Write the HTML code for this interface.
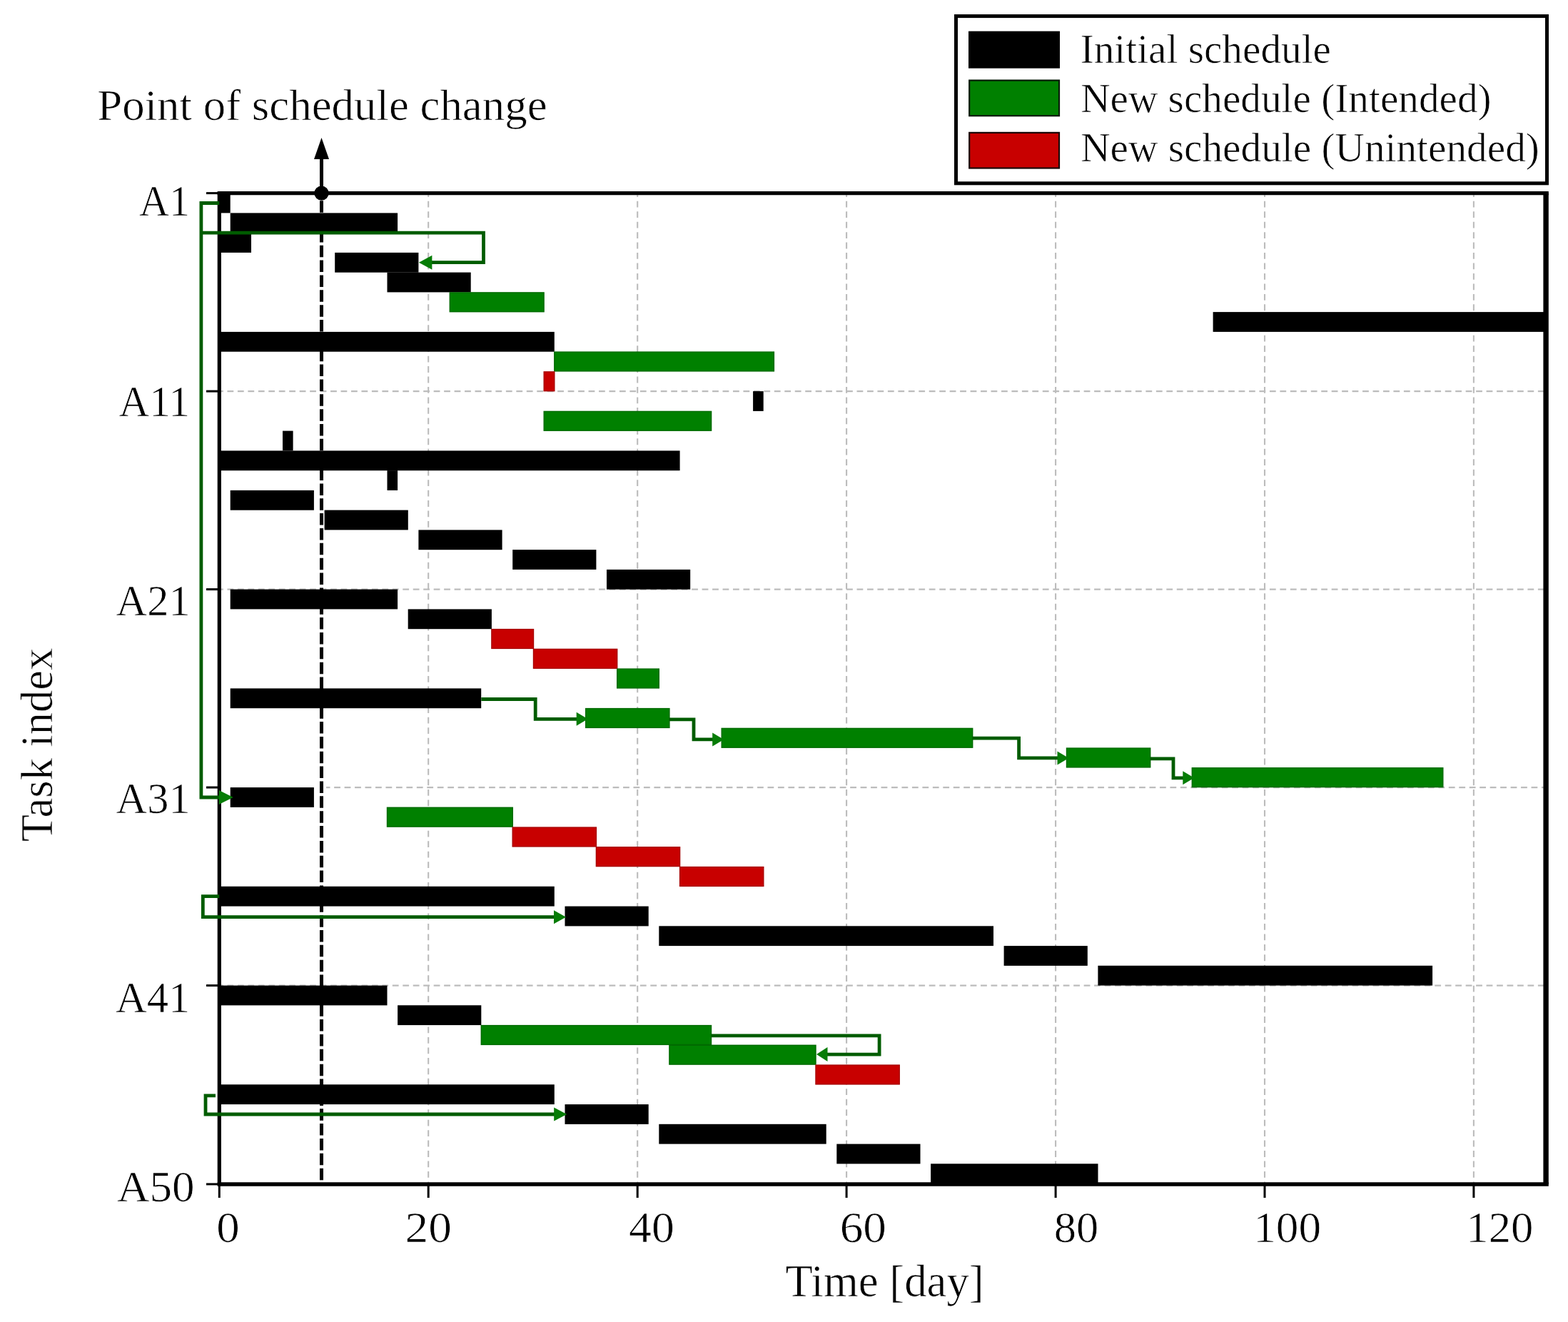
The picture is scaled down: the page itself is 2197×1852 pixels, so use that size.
<!DOCTYPE html>
<html lang="en"><head><meta charset="utf-8"><title>Schedule Gantt chart</title>
<style>html,body{margin:0;padding:0;background:#fff;}body{width:2197px;height:1852px;overflow:hidden;}svg{display:block;}text{font-family:"Liberation Serif","Times New Roman",serif;fill:#000;stroke:#fff;stroke-width:0.7px;paint-order:fill stroke;}</style>
</head><body>
<svg width="2197" height="1852" viewBox="0 0 2197 1852">
<rect x="0" y="0" width="2197" height="1852" fill="#ffffff"/>
<g stroke="#bcbcbc" stroke-width="2.1" stroke-dasharray="8.8 5.66" stroke-dashoffset="3.3" fill="none">
<line x1="600.2" y1="270.6" x2="600.2" y2="1658.9"/>
<line x1="893.2" y1="270.6" x2="893.2" y2="1658.9"/>
<line x1="1186.1" y1="270.6" x2="1186.1" y2="1658.9"/>
<line x1="1479.1" y1="270.6" x2="1479.1" y2="1658.9"/>
<line x1="1772.0" y1="270.6" x2="1772.0" y2="1658.9"/>
<line x1="2064.9" y1="270.6" x2="2064.9" y2="1658.9"/>
<line x1="307.3" y1="548.1" x2="2165.5" y2="548.1"/>
<line x1="307.3" y1="825.6" x2="2165.5" y2="825.6"/>
<line x1="457.0" y1="1103.1" x2="2165.5" y2="1103.1"/>
<line x1="307.3" y1="1380.6" x2="2165.5" y2="1380.6"/>
</g>
<g>
<rect x="308.1" y="270.6" width="14.6" height="27.8" fill="#000000"/>
<rect x="322.7" y="298.4" width="234.4" height="27.8" fill="#000000"/>
<rect x="308.1" y="326.1" width="43.9" height="27.8" fill="#000000"/>
<rect x="469.2" y="353.9" width="117.2" height="27.8" fill="#000000"/>
<rect x="542.5" y="381.6" width="117.2" height="27.8" fill="#000000"/>
<rect x="630.3" y="409.9" width="131.8" height="26.8" fill="#008000" stroke="#006a00" stroke-width="1.4"/>
<rect x="1699.6" y="437.1" width="465.9" height="27.8" fill="#000000"/>
<rect x="308.1" y="464.9" width="468.7" height="27.8" fill="#000000"/>
<rect x="776.8" y="493.1" width="307.6" height="26.8" fill="#008000" stroke="#006a00" stroke-width="1.4"/>
<rect x="762.2" y="520.9" width="14.6" height="26.8" fill="#c80000" stroke="#a80000" stroke-width="1.4"/>
<rect x="1055.1" y="548.1" width="14.6" height="27.8" fill="#000000"/>
<rect x="762.2" y="576.4" width="234.4" height="26.8" fill="#008000" stroke="#006a00" stroke-width="1.4"/>
<rect x="396.0" y="603.6" width="14.6" height="27.8" fill="#000000"/>
<rect x="308.1" y="631.4" width="644.5" height="27.8" fill="#000000"/>
<rect x="542.5" y="659.1" width="14.6" height="27.8" fill="#000000"/>
<rect x="322.7" y="686.9" width="117.2" height="27.8" fill="#000000"/>
<rect x="454.6" y="714.6" width="117.2" height="27.8" fill="#000000"/>
<rect x="586.4" y="742.4" width="117.2" height="27.8" fill="#000000"/>
<rect x="718.2" y="770.1" width="117.2" height="27.8" fill="#000000"/>
<rect x="850.0" y="797.9" width="117.2" height="27.8" fill="#000000"/>
<rect x="322.7" y="825.6" width="234.4" height="27.8" fill="#000000"/>
<rect x="571.7" y="853.4" width="117.2" height="27.8" fill="#000000"/>
<rect x="688.9" y="881.6" width="58.6" height="26.8" fill="#c80000" stroke="#a80000" stroke-width="1.4"/>
<rect x="747.5" y="909.4" width="117.2" height="26.8" fill="#c80000" stroke="#a80000" stroke-width="1.4"/>
<rect x="864.7" y="937.1" width="58.6" height="26.8" fill="#008000" stroke="#006a00" stroke-width="1.4"/>
<rect x="322.7" y="964.4" width="351.5" height="27.8" fill="#000000"/>
<rect x="820.7" y="992.6" width="117.2" height="26.8" fill="#008000" stroke="#006a00" stroke-width="1.4"/>
<rect x="1011.2" y="1020.4" width="351.5" height="26.8" fill="#008000" stroke="#006a00" stroke-width="1.4"/>
<rect x="1494.5" y="1048.1" width="117.2" height="26.8" fill="#008000" stroke="#006a00" stroke-width="1.4"/>
<rect x="1670.3" y="1075.8" width="351.5" height="26.8" fill="#008000" stroke="#006a00" stroke-width="1.4"/>
<rect x="322.7" y="1103.1" width="117.2" height="27.8" fill="#000000"/>
<rect x="542.5" y="1131.3" width="175.8" height="26.8" fill="#008000" stroke="#006a00" stroke-width="1.4"/>
<rect x="718.2" y="1159.1" width="117.2" height="26.8" fill="#c80000" stroke="#a80000" stroke-width="1.4"/>
<rect x="835.4" y="1186.8" width="117.2" height="26.8" fill="#c80000" stroke="#a80000" stroke-width="1.4"/>
<rect x="952.6" y="1214.6" width="117.2" height="26.8" fill="#c80000" stroke="#a80000" stroke-width="1.4"/>
<rect x="308.1" y="1241.8" width="468.7" height="27.8" fill="#000000"/>
<rect x="791.5" y="1269.6" width="117.2" height="27.8" fill="#000000"/>
<rect x="923.3" y="1297.3" width="468.7" height="27.8" fill="#000000"/>
<rect x="1406.6" y="1325.1" width="117.2" height="27.8" fill="#000000"/>
<rect x="1538.4" y="1352.8" width="468.7" height="27.8" fill="#000000"/>
<rect x="308.1" y="1380.6" width="234.4" height="27.8" fill="#000000"/>
<rect x="557.1" y="1408.3" width="117.2" height="27.8" fill="#000000"/>
<rect x="674.3" y="1436.6" width="322.2" height="26.8" fill="#008000" stroke="#006a00" stroke-width="1.4"/>
<rect x="937.9" y="1464.3" width="205.1" height="26.8" fill="#008000" stroke="#006a00" stroke-width="1.4"/>
<rect x="1143.0" y="1492.1" width="117.2" height="26.8" fill="#c80000" stroke="#a80000" stroke-width="1.4"/>
<rect x="308.1" y="1519.3" width="468.7" height="27.8" fill="#000000"/>
<rect x="791.5" y="1547.1" width="117.2" height="27.8" fill="#000000"/>
<rect x="923.3" y="1574.8" width="234.4" height="27.8" fill="#000000"/>
<rect x="1172.3" y="1602.6" width="117.2" height="27.8" fill="#000000"/>
<rect x="1304.1" y="1630.3" width="234.4" height="27.8" fill="#000000"/>
</g>
<g stroke="#000" fill="none">
<line x1="304.7" y1="270.6" x2="2169.8" y2="270.6" stroke-width="5.2"/>
<line x1="304.7" y1="1658.9" x2="2169.8" y2="1658.9" stroke-width="5.5"/>
<line x1="307.3" y1="270.6" x2="307.3" y2="1658.9" stroke-width="5.2"/>
<line x1="2166.1" y1="270.6" x2="2166.1" y2="1658.9" stroke-width="7.4"/>
<line x1="289.0" y1="270.6" x2="307.3" y2="270.6" stroke-width="3"/>
<line x1="289.0" y1="548.1" x2="307.3" y2="548.1" stroke-width="3"/>
<line x1="289.0" y1="825.6" x2="307.3" y2="825.6" stroke-width="3"/>
<line x1="289.0" y1="1103.1" x2="307.3" y2="1103.1" stroke-width="3"/>
<line x1="289.0" y1="1380.6" x2="307.3" y2="1380.6" stroke-width="3"/>
<line x1="289.0" y1="1658.9" x2="307.3" y2="1658.9" stroke-width="3"/>
<line x1="307.3" y1="1658.9" x2="307.3" y2="1678.0" stroke-width="3"/>
<line x1="600.2" y1="1658.9" x2="600.2" y2="1678.0" stroke-width="3"/>
<line x1="893.2" y1="1658.9" x2="893.2" y2="1678.0" stroke-width="3"/>
<line x1="1186.1" y1="1658.9" x2="1186.1" y2="1678.0" stroke-width="3"/>
<line x1="1479.1" y1="1658.9" x2="1479.1" y2="1678.0" stroke-width="3"/>
<line x1="1772.0" y1="1658.9" x2="1772.0" y2="1678.0" stroke-width="3"/>
<line x1="2064.9" y1="1658.9" x2="2064.9" y2="1678.0" stroke-width="3"/>
</g>
<line x1="450.5" y1="270.6" x2="450.5" y2="1658.9" stroke="#000" stroke-width="5" stroke-dasharray="16.5 4.353" stroke-dashoffset="10.25"/>
<line x1="450.5" y1="270.6" x2="450.5" y2="215.0" stroke="#000" stroke-width="5"/>
<polygon points="450.5,193 440.0,223 461.0,223" fill="#000"/>
<circle cx="450.5" cy="270.6" r="10.2" fill="#000"/>
<g>
<polyline points="307.3,284.5 281.9,284.5 281.9,1117.0 312.7,1117.0" fill="none" stroke="#005c00" stroke-width="4.8" stroke-linejoin="miter"/>
<polygon points="326.7,1117.0 306.7,1107.0 306.7,1127.0" fill="#067c06"/>
<polyline points="281.9,326.1 677.5,326.1 677.5,367.7 599.8,367.7" fill="none" stroke="#005c00" stroke-width="4.8" stroke-linejoin="miter"/>
<polygon points="586.9,367.7 605.4,357.7 605.4,377.7" fill="#067c06"/>
<polyline points="674.3,979.5 750.2,979.5 750.2,1007.3 812.5,1007.3" fill="none" stroke="#005c00" stroke-width="4.8" stroke-linejoin="miter"/>
<polygon points="823.7,1007.3 807.7,997.8 807.7,1016.8" fill="#067c06"/>
<polyline points="937.9,1007.8 972.0,1007.8 972.0,1035.9 1003.0,1035.9" fill="none" stroke="#005c00" stroke-width="4.8" stroke-linejoin="miter"/>
<polygon points="1014.2,1035.9 998.2,1026.4 998.2,1045.4" fill="#067c06"/>
<polyline points="1362.7,1034.1 1427.6,1034.1 1427.6,1061.9 1486.3,1061.9" fill="none" stroke="#005c00" stroke-width="4.8" stroke-linejoin="miter"/>
<polygon points="1497.5,1061.9 1481.5,1052.4 1481.5,1071.4" fill="#067c06"/>
<polyline points="1611.7,1062.9 1644.0,1062.9 1644.0,1089.8 1662.1,1089.8" fill="none" stroke="#005c00" stroke-width="4.8" stroke-linejoin="miter"/>
<polygon points="1673.3,1089.8 1657.3,1080.3 1657.3,1099.3" fill="#067c06"/>
<polyline points="307.3,1255.7 284.3,1255.7 284.3,1284.7 781.1,1284.7" fill="none" stroke="#005c00" stroke-width="4.8" stroke-linejoin="miter"/>
<polygon points="793.0,1284.7 776.0,1275.2 776.0,1294.2" fill="#067c06"/>
<polyline points="302.0,1534.8 288.0,1534.8 288.0,1561.0 781.6,1561.0" fill="none" stroke="#005c00" stroke-width="4.8" stroke-linejoin="miter"/>
<polygon points="794.2,1561.0 776.2,1551.5 776.2,1570.5" fill="#067c06"/>
<polyline points="996.5,1450.9 1232.1,1450.9 1232.1,1477.1 1154.8,1477.1" fill="none" stroke="#005c00" stroke-width="4.8" stroke-linejoin="miter"/>
<polygon points="1144.0,1477.1 1159.5,1467.1 1159.5,1487.1" fill="#067c06"/>
</g>
<rect x="1339.5" y="22.6" width="828" height="234.2" fill="#fff" stroke="#000" stroke-width="5"/>
<rect x="1357" y="43.7" width="128" height="52" fill="#000"/>
<rect x="1358.2" y="112.6" width="125.8" height="49.6" fill="#008000" stroke="#061a06" stroke-width="2.2"/>
<rect x="1358.2" y="185.9" width="125.8" height="49.6" fill="#c80000" stroke="#1a0404" stroke-width="2.2"/>
<text transform="translate(1513.68,87.70) scale(0.9958,1)" font-size="57.5">Initial schedule</text>
<text transform="translate(1514.18,157.30) scale(0.9959,1)" font-size="57.5">New schedule (Intended)</text>
<text transform="translate(1514.18,226.30) scale(0.9966,1)" font-size="57.5">New schedule (Unintended)</text>
<text transform="translate(136.23,168.40) scale(1.0142,1)" font-size="62">Point of schedule change</text>
<text transform="translate(195.01,301.80) scale(0.9387,1)" font-size="62">A1</text>
<text transform="translate(166.40,582.90) scale(0.9548,1)" font-size="62">A11</text>
<text transform="translate(162.59,861.60) scale(0.9739,1)" font-size="62">A21</text>
<text transform="translate(162.59,1138.60) scale(0.9739,1)" font-size="62">A31</text>
<text transform="translate(161.89,1417.60) scale(0.9778,1)" font-size="62">A41</text>
<text transform="translate(163.96,1682.90) scale(1.0169,1)" font-size="62">A50</text>
<text transform="translate(303.21,1740.00) scale(1.0476,1)" font-size="62">0</text>
<text transform="translate(567.50,1740.00) scale(1.0549,1)" font-size="62">20</text>
<text transform="translate(881.02,1740.00) scale(1.0278,1)" font-size="62">40</text>
<text transform="translate(1176.74,1740.00) scale(1.0526,1)" font-size="62">60</text>
<text transform="translate(1476.81,1740.00) scale(1.0079,1)" font-size="62">80</text>
<text transform="translate(1756.18,1740.00) scale(1.0220,1)" font-size="62">100</text>
<text transform="translate(2054.33,1740.00) scale(1.0126,1)" font-size="62">120</text>
<text transform="translate(1100.39,1816.30) scale(0.9886,1)" font-size="63.5">Time [day]</text>
<text transform="translate(73.40,1179.22) rotate(-90) scale(0.9920,1)" font-size="63">Task index</text>
</svg>
</body></html>
